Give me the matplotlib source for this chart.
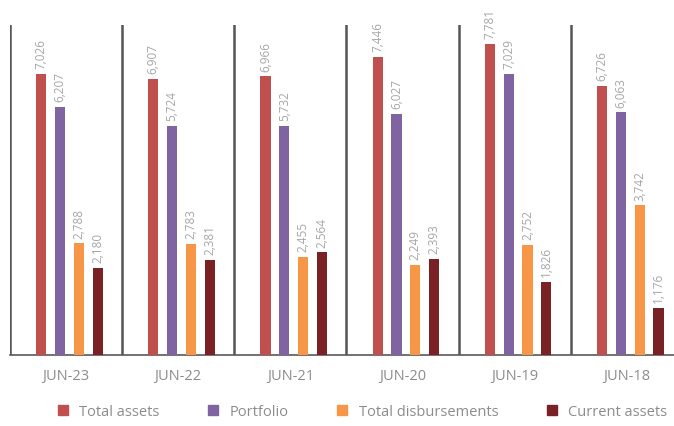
import matplotlib.pyplot as plt
from matplotlib.lines import Line2D
import numpy as np

plt.rcParams['font.family'] = ['Open Sans', 'DejaVu Sans']

periods = ["JUN-23", "JUN-22", "JUN-21", "JUN-20", "JUN-19", "JUN-18"]
series_names = ["Total assets", "Portfolio", "Total disbursements", "Current assets"]
total_assets = [7026, 6907, 6966, 7446, 7781, 6726]
portfolio = [6207, 5724, 5732, 6027, 7029, 6063]
disbursements = [2788, 2783, 2455, 2249, 2752, 3742]
current_assets = [2180, 2381, 2564, 2393, 1826, 1176]
colors = ["#c0504d", "#8064a2", "#f79646", "#7a2126"]

series = [total_assets, portfolio, disbursements, current_assets]

fig = plt.figure(figsize=(6.74, 4.26), dpi=100)
ax = fig.add_axes([10 / 674, 1 - 355 / 426, 664 / 674, 330 / 426])

x = np.arange(len(periods))
step = 0.168
width = 0.09
for i, (vals, col) in enumerate(zip(series, colors)):
    pos = x + (i - 1.5) * step + 0.03
    ax.bar(pos, vals, width=width, color=col, zorder=3)
    for p, v in zip(pos, vals):
        ax.text(p, v + 120, f"{v:,}", rotation=90, ha="center", va="bottom",
                fontsize=8.5, color="#a6a6a6", clip_on=False)

# separators between periods
for b in np.arange(-0.5, len(periods), 1.0):
    ax.axvline(b, color="#555555", lw=1.8, zorder=2)

ax.set_xlim(-0.5, 5.42)
ax.set_ylim(0, 8250)
ax.set_yticks([])
ax.set_xticks(x)
ax.set_xticklabels(periods, fontsize=10.5, color="#8c8c8c")
ax.tick_params(axis="x", length=0, pad=10)
for s in ["top", "right", "left"]:
    ax.spines[s].set_visible(False)
ax.spines["bottom"].set_color("#595959")
ax.spines["bottom"].set_linewidth(1.2)

handles = [Line2D([], [], marker="s", linestyle="none", markersize=6.5,
                  color=c) for c in colors]
fig.legend(handles, series_names, loc="center", bbox_to_anchor=(0.531, 1 - 412 / 426),
           ncol=4, frameon=False, fontsize=10.5, labelcolor="#8c8c8c",
           handletextpad=0.1, columnspacing=2.7)

fig.savefig("out.png", dpi=100)
